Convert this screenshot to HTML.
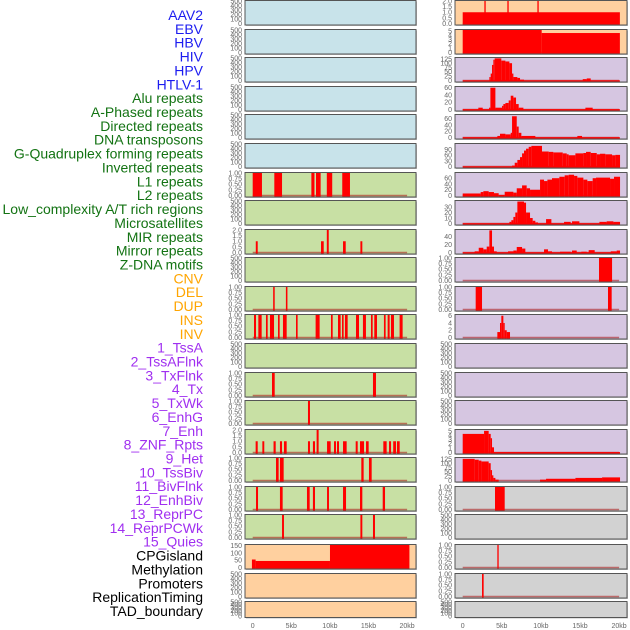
<!DOCTYPE html>
<html><head><meta charset="utf-8">
<style>
body{margin:0;background:#fff;width:630px;height:630px;overflow:hidden}
svg{display:block;font-family:"Liberation Sans",sans-serif}
</style></head>
<body>
<svg id="chart" width="630" height="630" viewBox="0 0 630 630" xmlns="http://www.w3.org/2000/svg"></svg>
<script>
// ---- data ----
const trackLabels = ["AAV2","EBV","HBV","HIV","HPV","HTLV-1","Alu repeats","A-Phased repeats","Directed repeats","DNA transposons","G-Quadruplex forming repeats","Inverted repeats","L1 repeats","L2 repeats","Low_complexity A/T rich regions","Microsatellites","MIR repeats","Mirror repeats","Z-DNA motifs","CNV","DEL","DUP","INS","INV","1_TssA","2_TssAFlnk","3_TxFlnk","4_Tx","5_TxWk","6_EnhG","7_Enh","8_ZNF_Rpts","9_Het","10_TssBiv","11_BivFlnk","12_EnhBiv","13_ReprPC","14_ReprPCWk","15_Quies","CPGisland","Methylation","Promoters","ReplicationTiming","TAD_boundary"];
const labelColors = ["#1c1cf0","#1c1cf0","#1c1cf0","#1c1cf0","#1c1cf0","#1c1cf0","#137313","#137313","#137313","#137313","#137313","#137313","#137313","#137313","#137313","#137313","#137313","#137313","#137313","#ffa500","#ffa500","#ffa500","#ffa500","#ffa500","#a02ff0","#a02ff0","#a02ff0","#a02ff0","#a02ff0","#a02ff0","#a02ff0","#a02ff0","#a02ff0","#a02ff0","#a02ff0","#a02ff0","#a02ff0","#a02ff0","#a02ff0","#000","#000","#000","#000","#000"];
const xTickValues = [0,5,10,15,20];
const xTickLabels = ["0","5kb","10kb","15kb","20kb"];

const tEmpty = ["0","100","200","300","400","500"];
const tOne = ["0.00","0.25","0.50","0.75","1.00"];
const tTwo = ["0.0","0.5","1.0","1.5","2.0"];

// left column segments [startKb, endKb, value]
const L6 = [[0,1.2,1],[2.8,3.8,1],[7.6,8.0,1],[8.2,8.8,1],[9.6,10.3,1],[11.6,12.6,1]];
const L8 = [[0.4,0.65,1],[8.85,9.2,1],[9.6,9.85,2],[11.7,12.05,1],[13.95,14.2,1]];
const L10 = [[2.65,2.85,1],[4.3,4.5,1]];
const L11 = [[0.17,0.43,1],[0.73,1.16,1],[1.72,1.94,1],[2.24,2.76,1],[3.28,3.49,1],[3.92,4.4,1],[5.61,5.82,1],[8.15,8.67,1],[10.14,10.36,1],[11.05,11.39,1],[11.57,11.78,1],[11.95,12.3,1],[13.38,13.77,1],[14.28,14.67,1],[15.32,15.54,1],[15.75,16.1,1],[17.0,17.22,1],[17.48,17.74,1],[17.91,18.3,1],[19.03,19.42,1]];
const L13 = [[2.5,2.85,1],[15.58,15.97,1]];
const L14 = [[7.16,7.42,1]];
const L15 = [[0.38,0.65,1],[1.25,1.5,1],[2.7,2.98,1],[3.53,3.8,1],[4.05,4.4,1],[7.16,7.42,1],[7.8,8.07,1],[8.28,8.54,2],[9.63,10.1,1],[10.53,10.79,1],[10.92,11.18,1],[11.7,12.17,1],[13.34,13.6,1],[13.9,14.42,1],[14.68,15.02,1],[16.92,17.35,1],[17.66,17.92,1],[18.2,18.56,1],[18.69,19.04,1]];
const L16 = [[3.02,3.36,1],[3.53,4.01,1],[14.07,14.37,1],[15.06,15.41,1]];
const L17 = [[0.43,0.69,1],[3.53,3.88,1],[7.03,7.38,1],[7.8,8.07,1],[9.63,9.88,1],[11.7,12.09,1],[13.9,14.2,1],[16.84,17.14,1]];
const L18 = [[3.8,4.05,1],[13.95,14.2,1],[15.58,15.84,1]];
const L19 = [[-0.1,0.38,55],[0.38,10.01,45],[10.01,20.3,155]];

// right column segments
const R0 = [[0,20.1,1],[2.77,2.94,2],[5.71,5.88,2],[9.55,9.72,2]];
const R1 = [[0,10.1,5.2],[10.1,20.1,4.5]];
const R2 = [[0,20.1,1],[3.41,3.58,20],[3.58,3.75,40],[3.75,3.92,90],[3.92,4.09,120],[4.09,4.94,128],[4.94,5.46,115],[5.46,5.97,110],[5.97,6.31,100],[6.31,6.48,40],[6.48,6.99,20],[6.99,7.33,15],[7.33,7.84,5],[15.35,15.86,8],[15.86,16.37,12]];
const R3 = [[0,20.1,1],[2.0,2.56,5],[3.37,3.54,5],[3.54,4.18,60],[4.18,5.03,5],[5.03,5.2,10],[5.2,5.46,15],[5.46,5.88,18],[5.88,6.14,25],[6.14,6.48,38],[6.48,6.82,33],[6.82,7.16,15],[7.16,7.76,5],[15.69,16.62,5]];
const R4 = [[0,20.1,1],[4.43,4.77,5],[4.77,5.46,12],[5.46,6.14,10],[6.14,6.31,15],[6.31,6.91,68],[6.91,7.16,35],[7.16,7.5,15],[7.5,9.29,5],[14.66,15.26,5]];
const R5 = [[0,20.1,1],[6.31,6.65,5],[6.65,6.99,20],[6.99,7.33,35],[7.33,7.59,50],[7.59,7.84,70],[7.84,8.1,85],[8.1,8.44,95],[8.44,8.78,105],[8.78,10.14,110],[10.14,11.0,80],[11.0,11.59,78],[11.59,12.79,75],[12.79,13.3,70],[13.3,13.55,65],[13.55,14.41,60],[14.41,15.43,70],[15.43,15.77,72],[15.77,16.37,78],[16.37,17.14,72],[17.14,17.56,65],[17.56,18.24,68],[18.24,19.1,65],[19.1,19.52,60],[19.52,20.12,62]];
const R6 = [[0,2.3,7],[2.3,2.64,12],[2.64,3.32,15],[3.32,4.0,12],[4.0,4.6,8],[4.6,5.37,2],[5.37,6.48,13],[6.48,6.91,10],[6.91,7.59,25],[7.59,8.18,35],[8.18,8.61,25],[8.61,9.89,20],[9.89,10.4,55],[10.4,10.83,50],[10.83,11.42,55],[11.42,12.36,60],[12.36,13.04,65],[13.04,13.55,70],[13.55,14.24,72],[14.24,14.66,68],[14.66,15.43,62],[15.43,15.94,55],[15.94,16.62,50],[16.62,17.05,60],[17.05,18.84,62],[18.84,19.35,58],[19.35,20.12,65]];
const R7 = [[0,20.1,0.5],[5.97,6.22,3],[6.22,6.48,6],[6.48,6.73,12],[6.73,6.99,20],[6.99,7.84,40],[7.84,8.1,38],[8.1,8.61,20],[8.61,8.95,10],[8.95,9.29,5],[9.29,9.63,2],[10.66,11.34,8],[12.96,13.81,3],[13.98,14.92,4],[17.48,18.41,3],[18.41,19.27,4],[19.27,20.12,3]];
const R8 = [[0,20.1,0.7],[1.53,2.05,3],[2.05,2.64,12],[2.64,3.07,8],[3.07,3.41,15],[3.41,3.75,56],[3.75,4.0,15],[4.0,4.35,3],[5.8,6.48,3],[6.48,6.91,5],[6.91,7.59,14],[7.59,8.01,10],[10.4,10.91,8],[10.91,11.42,3],[12.45,13.81,2],[13.98,14.58,5],[15.17,15.86,2],[16.11,16.88,6],[18.93,19.69,3],[19.69,20.12,5]];
const R9 = [[17.43,19.1,1]];
const R10 = [[1.66,2.47,1],[18.58,19.05,1]];
const R11 = [[4.43,4.77,1.5],[4.77,4.94,4],[4.94,5.2,6],[5.2,5.37,4],[5.37,5.63,2],[5.63,6.05,1.5]];
const R15 = [[0,2.73,4.3],[2.73,3.32,5],[3.32,3.58,4.3],[3.58,3.75,3.3],[3.75,4.0,1.2],[4.0,20.12,0.1]];
const R16 = [[0,1.53,125],[1.53,2.05,120],[2.05,2.39,115],[2.39,3.32,110],[3.32,3.58,100],[3.58,3.75,60],[3.75,3.92,30],[3.92,4.18,15],[4.18,4.6,5],[9.89,10.66,5],[10.66,14.41,10],[14.41,17.82,15],[17.82,20.12,18]];
const R17 = [[4.13,5.37,1]];
const R19 = [[4.43,4.6,1]];
const R20 = [[2.47,2.68,1]];

const BLUE="#c8e3ea", GREEN="#c8e0a4", ORANGE="#ffd09f", PURPLE="#d6c6e1", GREY="#d2d2d2";
// [fill, tickLabels, ymax, segments]
const leftPanels = [
 [BLUE,tEmpty,500,null],[BLUE,tEmpty,500,null],[BLUE,tEmpty,500,null],[BLUE,tEmpty,500,null],[BLUE,tEmpty,500,null],[BLUE,tEmpty,500,null],
 [GREEN,tOne,1,L6],[GREEN,tEmpty,500,null],[GREEN,tTwo,2,L8],[GREEN,tEmpty,500,null],[GREEN,tOne,1,L10],[GREEN,tOne,1,L11],
 [GREEN,tEmpty,500,null],[GREEN,tOne,1,L13],[GREEN,tOne,1,L14],[GREEN,tTwo,2,L15],[GREEN,tOne,1,L16],[GREEN,tOne,1,L17],[GREEN,tOne,1,L18],
 [ORANGE,["0","50","100","150"],155,L19],[ORANGE,tEmpty,500,null],[ORANGE,tEmpty,500,null]
];
const rightPanels = [
 [ORANGE,["0.0","0.5","1.0","1.5","2.0"],2,R0],[ORANGE,["0","1","2","3","4","5"],5.2,R1],
 [PURPLE,["0","25","50","75","100","125"],130,R2],[PURPLE,["0","20","40","60"],62,R3],[PURPLE,["0","20","40","60"],72,R4],
 [PURPLE,["0","30","60","90"],120,R5],[PURPLE,["0","20","40","60"],78,R6],[PURPLE,["0","10","20","30"],41,R7],
 [PURPLE,["0","20","40"],57,R8],[PURPLE,tOne,1,R9],[PURPLE,tOne,1,R10],[PURPLE,["0","2","4","6"],6.2,R11],
 [PURPLE,tEmpty,500,null],[PURPLE,tEmpty,500,null],[PURPLE,tEmpty,500,null],
 [PURPLE,["0","1","2","3","4","5"],5.2,R15],[PURPLE,["0","25","50","75","100","125"],130,R16],
 [GREY,tOne,1,R17],[GREY,tEmpty,500,null],[GREY,tOne,1,R19],[GREY,tOne,1,R20],[GREY,tEmpty,500,null]
];

// ---- layout ----
const NS="http://www.w3.org/2000/svg";
const svg=document.getElementById('chart');
function mk(tag,attrs,parent){const e=document.createElementNS(NS,tag);for(const k in attrs)e.setAttribute(k,attrs[k]);(parent||svg).appendChild(e);return e;}
const panelTops=[0,29,57,86,114,143,172,200,229,257,286,314,343,372,400,429,457,486,514,544,573,601];
const cols=[{fx:245,fw:171,x0:252.7,x20:407.1},{fx:455,fw:172,x0:462.7,x20:619.1}];

// labels
trackLabels.forEach((t,i)=>{
  const el=mk('text',{x:203,y:20+i*13.86,'text-anchor':'end','font-size':'14',fill:labelColors[i]});
  
  
  el.textContent=t;
});

function drawPanel(c,row,p){
  const col=cols[c];
  const top=panelTops[row]+0.5, h=(row===21?16:24.5), bot=top+h;
  const g=mk('g',{});
  
  
  mk('rect',{x:col.fx+1,y:top+1,width:col.fw,height:h,fill:'#999','opacity':0.6},g);
  mk('rect',{x:col.fx,y:top,width:col.fw,height:h,fill:p[0],stroke:'#555','stroke-width':1},g);
  const xs=v=>col.x0+(col.x20-col.x0)*v/20;
  const y0=bot-1.5, yt=top+0.5;
  const ys=v=>y0-(y0-yt)*v/p[2];
  p[1].forEach(lbl=>{
    const v=parseFloat(lbl);
    const yy=ys(v);
    const t=mk('text',{x:col.fx-3,y:yy+2.4,'text-anchor':'end','font-size':'7',fill:'#666'},g);
    
    
    t.textContent=lbl;
  });
  if(p[3]){
    const base=mk('line',{x1:xs(0),x2:xs(20),y1:y0,y2:y0,stroke:'rgba(170,20,20,0.55)','stroke-width':1.6},g);
    
    
    p[3].forEach(s=>{
      const x1=Math.max(col.fx+0.5,xs(s[0])), x2=Math.min(col.fx+col.fw-0.5,xs(s[1]));
      const yv=Math.max(top+0.5,ys(s[2]));
      const r=mk('rect',{x:x1,y:yv,width:Math.max(1.2,x2-x1),height:y0-yv+1,fill:'#ff0000'},g);
      
      
    });
  }
}
leftPanels.forEach((p,i)=>drawPanel(0,i,p));
rightPanels.forEach((p,i)=>drawPanel(1,i,p));

// x axes
cols.forEach((col,ci)=>{
  xTickValues.forEach((v,i)=>{
    const t=mk('text',{x:col.x0+(col.x20-col.x0)*v/20,y:628,'text-anchor':'middle','font-size':'7',fill:'#666'});
    
    
    t.textContent=xTickLabels[i];
  });
});
</script>
</body></html>
